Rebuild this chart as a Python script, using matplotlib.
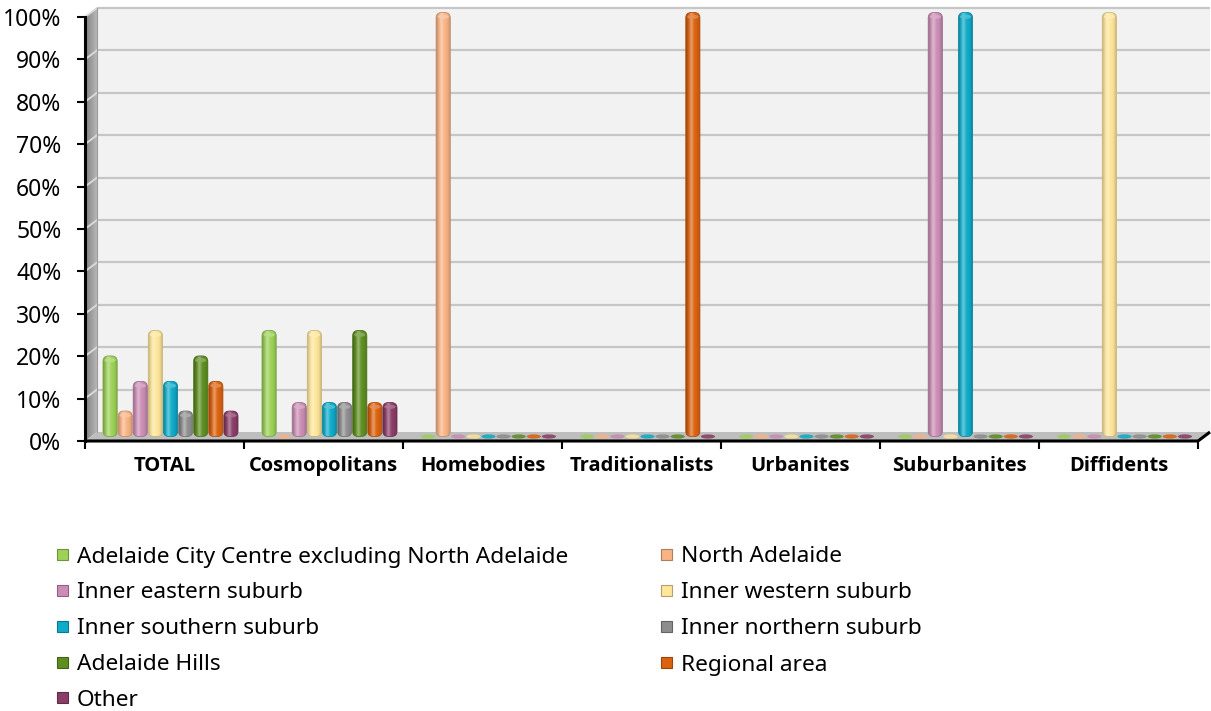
import numpy as np
import matplotlib
matplotlib.use("Agg")
import matplotlib.pyplot as plt
from matplotlib.patches import FancyBboxPatch, Polygon, Ellipse, Rectangle
from matplotlib.colors import to_rgb

plt.rcParams['font.family'] = ['Noto Sans', 'DejaVu Sans']

categories = ['TOTAL', 'Cosmopolitans', 'Homebodies', 'Traditionalists',
              'Urbanites', 'Suburbanites', 'Diffidents']

series_names = ['Adelaide City Centre excluding North Adelaide', 'North Adelaide',
                'Inner eastern suburb', 'Inner western suburb',
                'Inner southern suburb', 'Inner northern suburb',
                'Adelaide Hills', 'Regional area', 'Other']

# percent of each segment living in each area
city_centre = [19, 25, 0, 0, 0, 0, 0]
north_adelaide = [6, 0, 100, 0, 0, 0, 0]
inner_east = [13, 8, 0, 0, 0, 100, 0]
inner_west = [25, 25, 0, 0, 0, 0, 100]
inner_south = [13, 8, 0, 0, 0, 100, 0]
inner_north = [6, 8, 0, 0, 0, 0, 0]
adelaide_hills = [19, 25, 0, 0, 0, 0, 0]
regional = [13, 8, 0, 100, 0, 0, 0]
other = [6, 8, 0, 0, 0, 0, 0]

series = [city_centre, north_adelaide, inner_east, inner_west, inner_south,
          inner_north, adelaide_hills, regional, other]

colors = ['#9dd257', '#f9b384', '#cb8db5', '#fee69a', '#0fabc9',
          '#8e8e8e', '#5e8e20', '#db620f', '#8a3d67']

yticks = [0, 10, 20, 30, 40, 50, 60, 70, 80, 90, 100]

W, H = 1211, 711
fig = plt.figure(figsize=(W / 100, H / 100), dpi=100)

# pixel scale of the front plane
px_x = 159.0      # pixels per category
px_y = 4.24       # pixels per percent
n = len(categories)
dx = 12 / px_x    # depth offset of the back wall
dy = 9 / px_y
xmax, ymax = n + dx, 103

left_px, base_px = 85, 441
ax = fig.add_axes([left_px / W, (H - base_px) / H,
                   xmax * px_x / W, ymax * px_y / H])
ax.set_xlim(0, xmax)
ax.set_ylim(0, ymax)
for s in ax.spines.values():
    s.set_visible(False)
ax.patch.set_visible(False)

# walls and floor
ax.add_patch(Polygon([(dx, dy), (n + dx, dy), (n + dx, 100 + dy), (dx, 100 + dy)],
                     closed=True, fc='#f2f2f2', ec='none', zorder=0, clip_on=False))
wall = np.linspace(0.50, 0.72, 32)[None, :]
wall_patch = Polygon([(0, 0), (dx, dy), (dx, 100 + dy), (0, 100)],
                     closed=True, fc='none', ec='none', zorder=0.5, clip_on=False)
ax.add_patch(wall_patch)
wim = ax.imshow(np.dstack([wall] * 3), extent=[0, dx, 0, 100 + dy], aspect='auto',
                interpolation='bilinear', zorder=0.4)
wim.set_clip_path(wall_patch)
ax.add_patch(Polygon([(0, 0), (n, 0), (n + dx, dy), (dx, dy)],
                     closed=True, fc='#bebebe', ec='none', zorder=0.5, clip_on=False))
for v in yticks[1:]:
    ax.plot([dx, n + dx], [v + dy, v + dy], color='#c6c6c6', lw=1.6,
            zorder=0.3, clip_on=False, solid_capstyle='butt')
    ax.plot([0, dx], [v, v + dy], color='#d9d9d9', lw=1.4, zorder=0.6, clip_on=False)
ax.plot([dx, dx], [dy, 100 + dy], color='#9a9a9a', lw=0.8, zorder=0.6)

# axis lines
ax.plot([0, n, n + dx], [0, 0, dy], color='black', lw=2.2, zorder=3,
        clip_on=False, solid_capstyle='butt')
ax.plot([0, 0], [0, 100], color='black', lw=2.2, zorder=3, clip_on=False)


def shade_strip(rgb, m=64):
    t = np.linspace(0, 1, m)
    glow = 0.35 * np.exp(-((t - 0.36) / 0.14) ** 2)
    dark = 1 - 0.28 * np.abs(2 * t - 1) ** 3
    c = np.array(rgb)[None, :]
    img = (c + (1 - c) * glow[:, None]) * dark[:, None]
    return np.clip(img, 0, 1)[None, :, :]


slot = 15.1 / px_x
bw = 14.2 / px_x
aspect = px_x / px_y
rad = 5.5 / px_x

for k, (vals, col) in enumerate(zip(series, colors)):
    rgb = to_rgb(col)
    strip = shade_strip(rgb)
    edge = tuple(c * 0.8 for c in rgb)
    for i, v in enumerate(vals):
        xc = i + 0.5 + (k - 4) * slot + dx / 2
        y0 = dy / 2
        if v == 0:
            ax.add_patch(Ellipse((xc, y0), bw, 1.0, fc=tuple(0.85 * c + 0.1 for c in rgb),
                                 ec='none', zorder=2))
            continue
        patch = FancyBboxPatch((xc - bw / 2, y0), bw, v,
                               boxstyle='round,pad=0,rounding_size=%f' % rad,
                               mutation_aspect=aspect, fc='none', ec=edge, lw=0.6,
                               zorder=2.6)
        ax.add_patch(patch)
        im = ax.imshow(strip, extent=[xc - bw / 2, xc + bw / 2, y0, y0 + v],
                       aspect='auto', interpolation='bilinear', zorder=2.5)
        im.set_clip_path(patch)
        # lighter top face of the cylinder
        ax.add_patch(Ellipse((xc, y0 + v - 1.0), bw * 0.8, 1.0,
                             fc=tuple(c + (1 - c) * 0.3 for c in rgb), ec='none',
                             alpha=0.8, zorder=2.7))

ax.set_aspect('auto')
ax.set_xlim(0, xmax)
ax.set_ylim(0, ymax)

ax.set_yticks(yticks)
ax.set_yticklabels(['%d%%' % v for v in yticks], fontsize=16.5)
ax.tick_params(axis='y', length=6, width=1.5, pad=11, color='black')
ax.set_xticks(np.arange(n) + 0.5)
ax.set_xticklabels(categories, fontsize=14.5, fontweight='bold',
                   family=['Open Sans', 'DejaVu Sans'])
ax.set_xticks(np.arange(n + 1), minor=True)
ax.tick_params(axis='x', which='major', length=0, pad=11)
ax.tick_params(axis='x', which='minor', length=6, width=1.5, color='black')

# legend, two columns filled row by row
rows = [557, 593, 629, 665, 700]
col_x = [57, 661]
for idx, (name, col) in enumerate(zip(series_names, colors)):
    r, c = divmod(idx, 2)
    x, y = col_x[c], rows[r]
    rgb = to_rgb(col)
    fig.patches.append(Rectangle((x / W, 1 - (y + 3) / H), 11 / W, 11 / H,
                                 transform=fig.transFigure, fc=col,
                                 ec=tuple(v * 0.7 for v in rgb), lw=0.8))
    fig.text((x + 20) / W, 1 - y / H, name, fontsize=16.3, va='center', ha='left')

fig.savefig('out.png', dpi=100)
